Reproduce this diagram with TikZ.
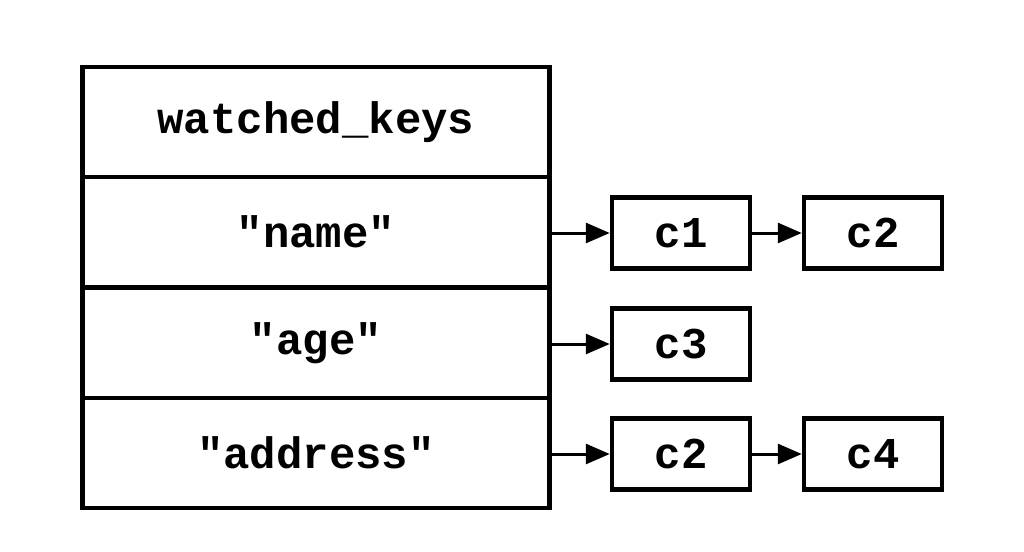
\documentclass[tikz,border=0pt]{standalone}
\usepackage{fontspec}
\setmonofont{Liberation Mono}
\usetikzlibrary{arrows.meta}
\begin{document}
\begin{tikzpicture}[x=1pt,y=-1pt,
  cell/.style={draw, line width=4.5pt, minimum width=467pt, minimum height=110pt, inner sep=0pt, font=\ttfamily\bfseries\fontsize{44}{44}\selectfont},
  cbox/.style={draw, line width=4.5pt, minimum width=138pt, minimum height=71pt, inner sep=0pt, font=\ttfamily\bfseries\fontsize{44}{44}\selectfont},
  link/.style={line width=3pt, -{Triangle[length=24pt,width=20pt]}}]
\useasboundingbox (0,0) rectangle (1024,551);
\node[cell] (wk) at (316,122) {watched\_keys};
\node[cell] (name) at (316,232) {"name"};
\node[cell] (age) at (316,343) {"age"};
\node[cell] (addr) at (316,453) {"address"};
\node[cbox] (c1) at (681,233) {c1};
\node[cbox] (c2a) at (873,233) {c2};
\node[cbox] (c3) at (681,344) {c3};
\node[cbox] (c2b) at (681,454) {c2};
\node[cbox] (c4) at (873,454) {c4};
\draw[link] (name.east |- c1.west) -- (c1.west);
\draw[link] (c1) -- (c2a);
\draw[link] (age.east |- c3.west) -- (c3.west);
\draw[link] (addr.east |- c2b.west) -- (c2b.west);
\draw[link] (c2b) -- (c4);
\end{tikzpicture}
\end{document}
